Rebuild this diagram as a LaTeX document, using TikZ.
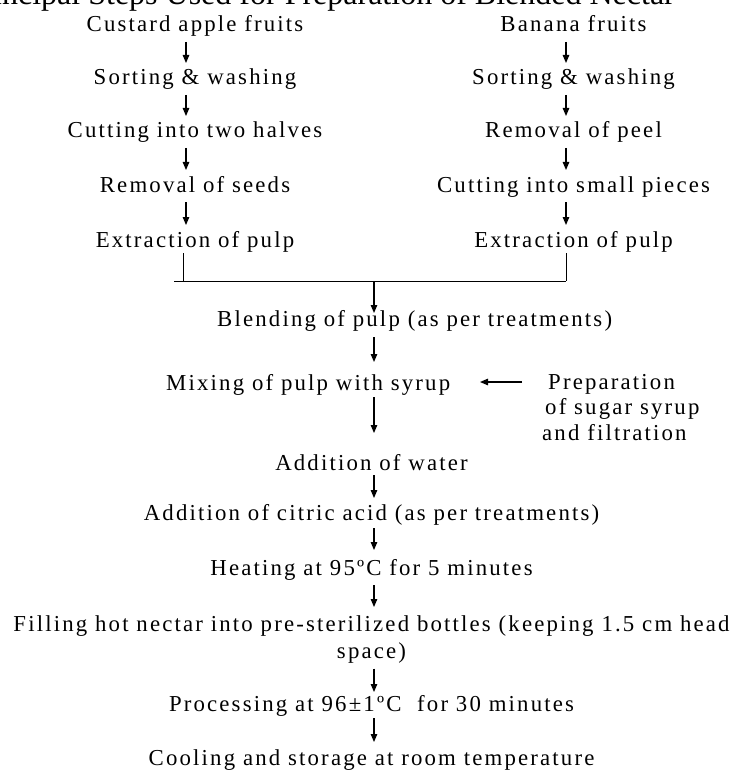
\documentclass[tikz,border=0pt]{standalone}
\usepackage{fontspec}
\setmainfont{Liberation Serif}[LetterSpace=9.5]
\newfontfamily\titlefont{Liberation Serif}
\usetikzlibrary{arrows.meta,calc}
\begin{document}
\begin{tikzpicture}[x=1pt,y=-1pt,
  lab/.style={inner sep=0pt, font=\fontsize{22.8}{27}\selectfont},
  arr/.style={line width=1.2pt, -{Triangle[length=8pt,width=6.5pt]}},
  ln/.style={line width=1pt}]
\useasboundingbox (0,0) rectangle (734,770);
\node[anchor=base east, inner sep=0pt, font=\titlefont\fontsize{32}{38}\selectfont] (title) at (675,5) {Principal Steps Used for Preparation of Blended Nectar};
% columns
\coordinate (L) at (186,0);
\coordinate (LJ) at (183,0);
\coordinate (R) at (566,0);
\coordinate (C) at (374,0);
\node[lab,anchor=base] (l1) at (195,32) {Custard apple fruits};
\node[lab,anchor=base] (l2) at (195,85) {Sorting \& washing};
\node[lab,anchor=base] (l3) at (195,138) {Cutting into two halves};
\node[lab,anchor=base] (l4) at (195,192) {Removal of seeds};
\node[lab,anchor=base] (l5) at (195,247) {Extraction of pulp};
\node[lab,anchor=base] (r1) at (573.5,32) {Banana fruits};
\node[lab,anchor=base] (r2) at (573.5,85) {Sorting \& washing};
\node[lab,anchor=base] (r3) at (573.5,138) {Removal of peel};
\node[lab,anchor=base] (r4) at (573.5,192) {Cutting into small pieces};
\node[lab,anchor=base] (r5) at (573.5,247) {Extraction of pulp};
\foreach \a/\b in {l1/l2,l2/l3,l3/l4,l4/l5}
  \draw[arr] ($(\a.base -| L)+(0,10)$) -- ($(\b.base -| L)+(0,-22)$);
\foreach \a/\b in {r1/r2,r2/r3,r3/r4,r4/r5}
  \draw[arr] ($(\a.base -| R)+(0,10)$) -- ($(\b.base -| R)+(0,-22)$);
% centre column
\node[lab,anchor=base west] (blend) at (217,326) {Blending of pulp (as per treatments)};
\node[lab,anchor=base west] (mix) at (166,390) {Mixing of pulp with syrup};
\node[lab,anchor=north west,align=left,font=\fontsize{22.8}{25.5}\selectfont] (prep) at (542,374) {\hspace*{6pt}Preparation\\\hspace*{3pt}of sugar syrup\\and filtration};
\node[lab,anchor=base] (water) at (371.5,470) {Addition of water};
\node[lab,anchor=base] (citric) at (371.5,520) {Addition of citric acid (as per treatments)};
\node[lab,anchor=base] (heat) at (371.5,575) {Heating at 95ºC for 5 minutes};
\node[lab,anchor=north,align=center] (fill) at (371.5,615.5) {Filling hot nectar into pre-sterilized bottles (keeping 1.5 cm head\\space)};
\node[lab,anchor=base] (proc) at (371.5,711) {Processing at 96±1ºC\ \ for 30 minutes};
\node[lab,anchor=base] (cool) at (371.5,765) {Cooling and storage at room temperature};
% junction
\coordinate (jL) at (174,281);
\coordinate (jR) at (566,281);
\coordinate (jC) at (374,281);
\draw[ln] ($(l5.base -| LJ)+(0,6)$) -- (LJ |- jL);
\draw[ln] ($(r5.base -| R)+(0,6)$) -- (jR);
\draw[ln] (jL) -- (jR);
\draw[arr] (jC) -- ($(blend.base -| C)+(0,-13)$);
\draw[arr] ($(blend.base -| C)+(0,11)$) -- ($(mix.base -| C)+(0,-28)$);
\draw[arr] ($(prep.north west)+(-20,8)$) -- ($(prep.north west)+(-62,8)$);
\draw[arr] ($(mix.base -| C)+(0,7)$) -- ($(water.base -| C)+(0,-37)$);
\draw[arr] ($(water.base -| C)+(0,5)$) -- ($(citric.base -| C)+(0,-22)$);
\draw[arr] ($(citric.base -| C)+(0,8)$) -- ($(heat.base -| C)+(0,-25)$);
\draw[arr] ($(heat.base -| C)+(0,10)$) -- ($(fill.north -| C)+(0,-8.5)$);
\draw[arr] ($(fill.south -| C)+(0,5)$) -- ($(proc.base -| C)+(0,-19)$);
\draw[arr] ($(proc.base -| C)+(0,7)$) -- ($(cool.base -| C)+(0,-23)$);
\end{tikzpicture}
\end{document}
